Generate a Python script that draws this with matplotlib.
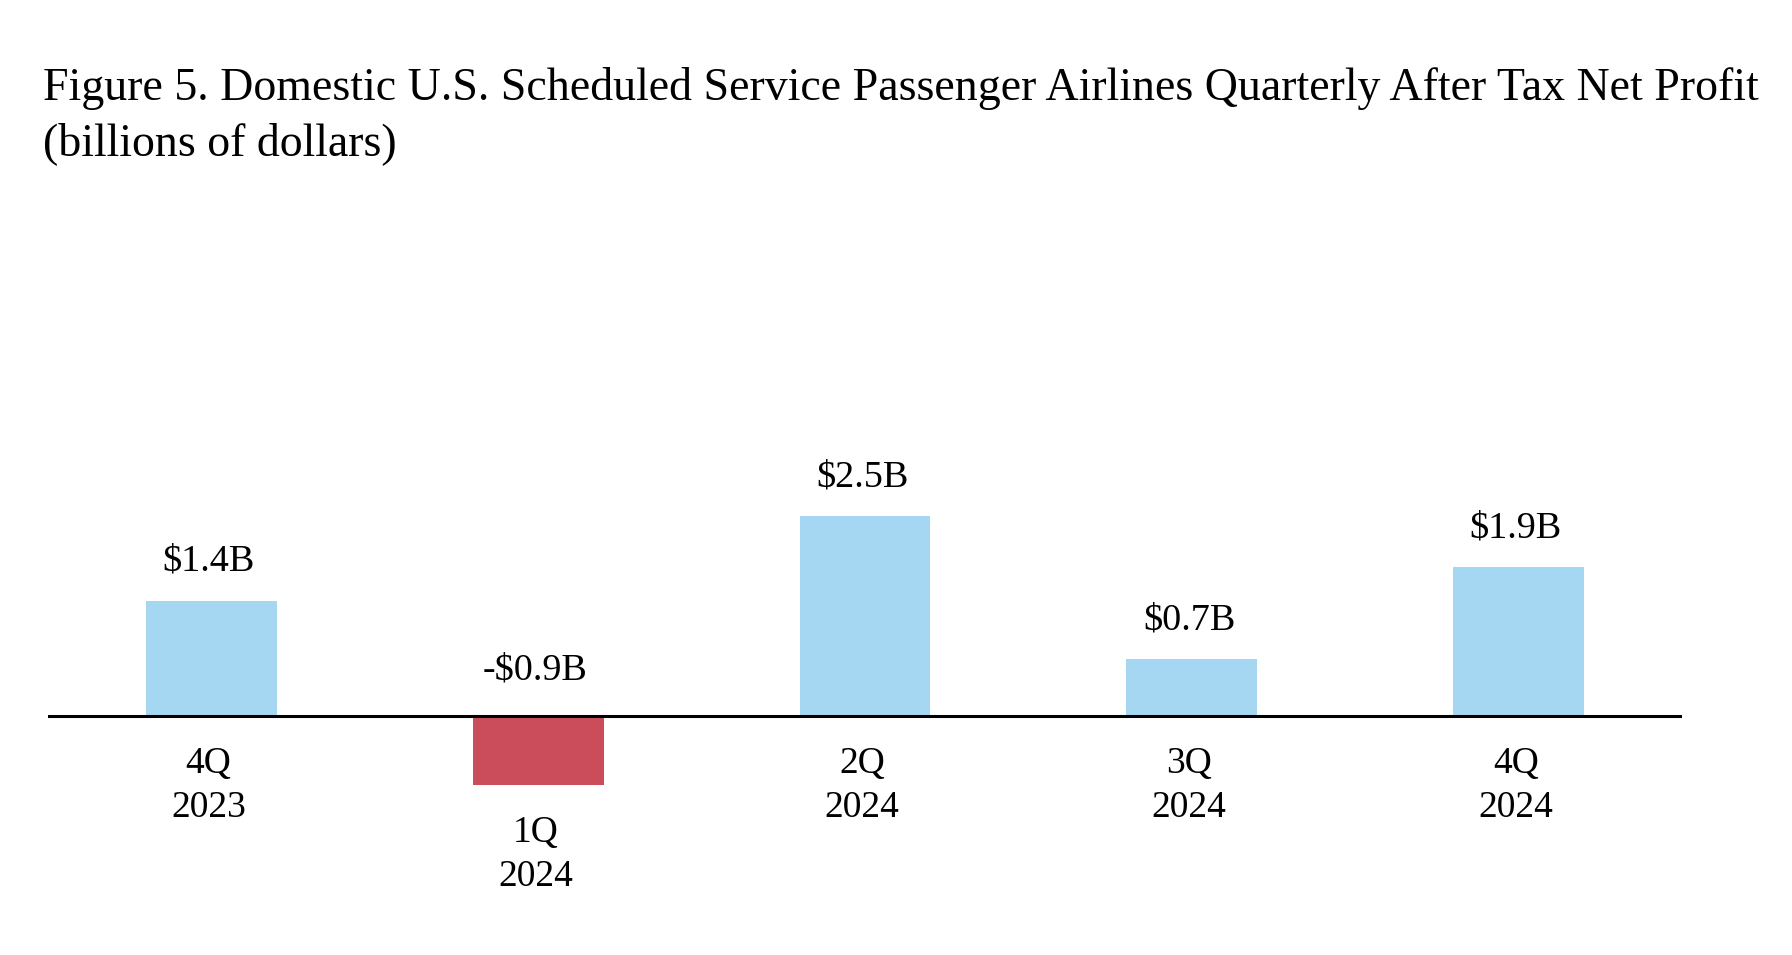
import matplotlib.pyplot as plt
import numpy as np

quarters = ["4Q", "1Q", "2Q", "3Q", "4Q"]
years = ["2023", "2024", "2024", "2024", "2024"]
profit = [1.44, -0.86, 2.5, 0.71, 1.86]
value_labels = ["$1.4B", "-$0.9B", "$2.5B", "$0.7B", "$1.9B"]

pos_color = "#A5D7F2"
neg_color = "#CB4C5B"

plt.rcParams['font.family'] = ['Liberation Serif', 'DejaVu Serif']


def main():
    fig = plt.figure(figsize=(17.92, 9.55), dpi=100)
    # axes box in pixels: x 48..1682, y 200..900 (from top)
    ax = fig.add_axes([48 / 1792, 55 / 955, 1634 / 1792, 700 / 955])

    x = np.arange(len(profit))
    colors = [pos_color if v >= 0 else neg_color for v in profit]
    ax.bar(x, profit, width=0.4, color=colors, zorder=2)
    ax.axhline(0, color="black", lw=2.2, zorder=3)

    ax.set_xlim(-0.5, len(profit) - 0.5)
    ax.set_ylim(-2.3, 6.45)
    ax.axis("off")

    # value labels above bars (or above the axis for negative values)
    for xi, v, lab in zip(x, profit, value_labels):
        base = v if v >= 0 else 0
        off = 21.6 if v >= 0 else 26
        ax.annotate(lab, (xi, base), xytext=(-2, off), textcoords="offset points",
                    ha="center", va="baseline", fontsize=27.5)

    # category labels below the axis (or below negative bars)
    for xi, v, q, yr in zip(x, profit, quarters, years):
        base = min(v, 0)
        ax.annotate(q, (xi, base), xytext=(-2, -41), textcoords="offset points",
                    ha="center", va="baseline", fontsize=27)
        ax.annotate(yr, (xi, base), xytext=(-2, -73), textcoords="offset points",
                    ha="center", va="baseline", fontsize=27)

    fig.text(43 / 1792, 1 - 100 / 955,
             "Figure 5. Domestic U.S. Scheduled Service Passenger Airlines Quarterly After Tax Net Profit",
             fontsize=33, va="baseline", ha="left")
    fig.text(43 / 1792, 1 - 155 / 955, "(billions of dollars)",
             fontsize=33, va="baseline", ha="left")

    fig.savefig("out.png", dpi=100)
    plt.close(fig)


if __name__ == "__main__":
    main()
